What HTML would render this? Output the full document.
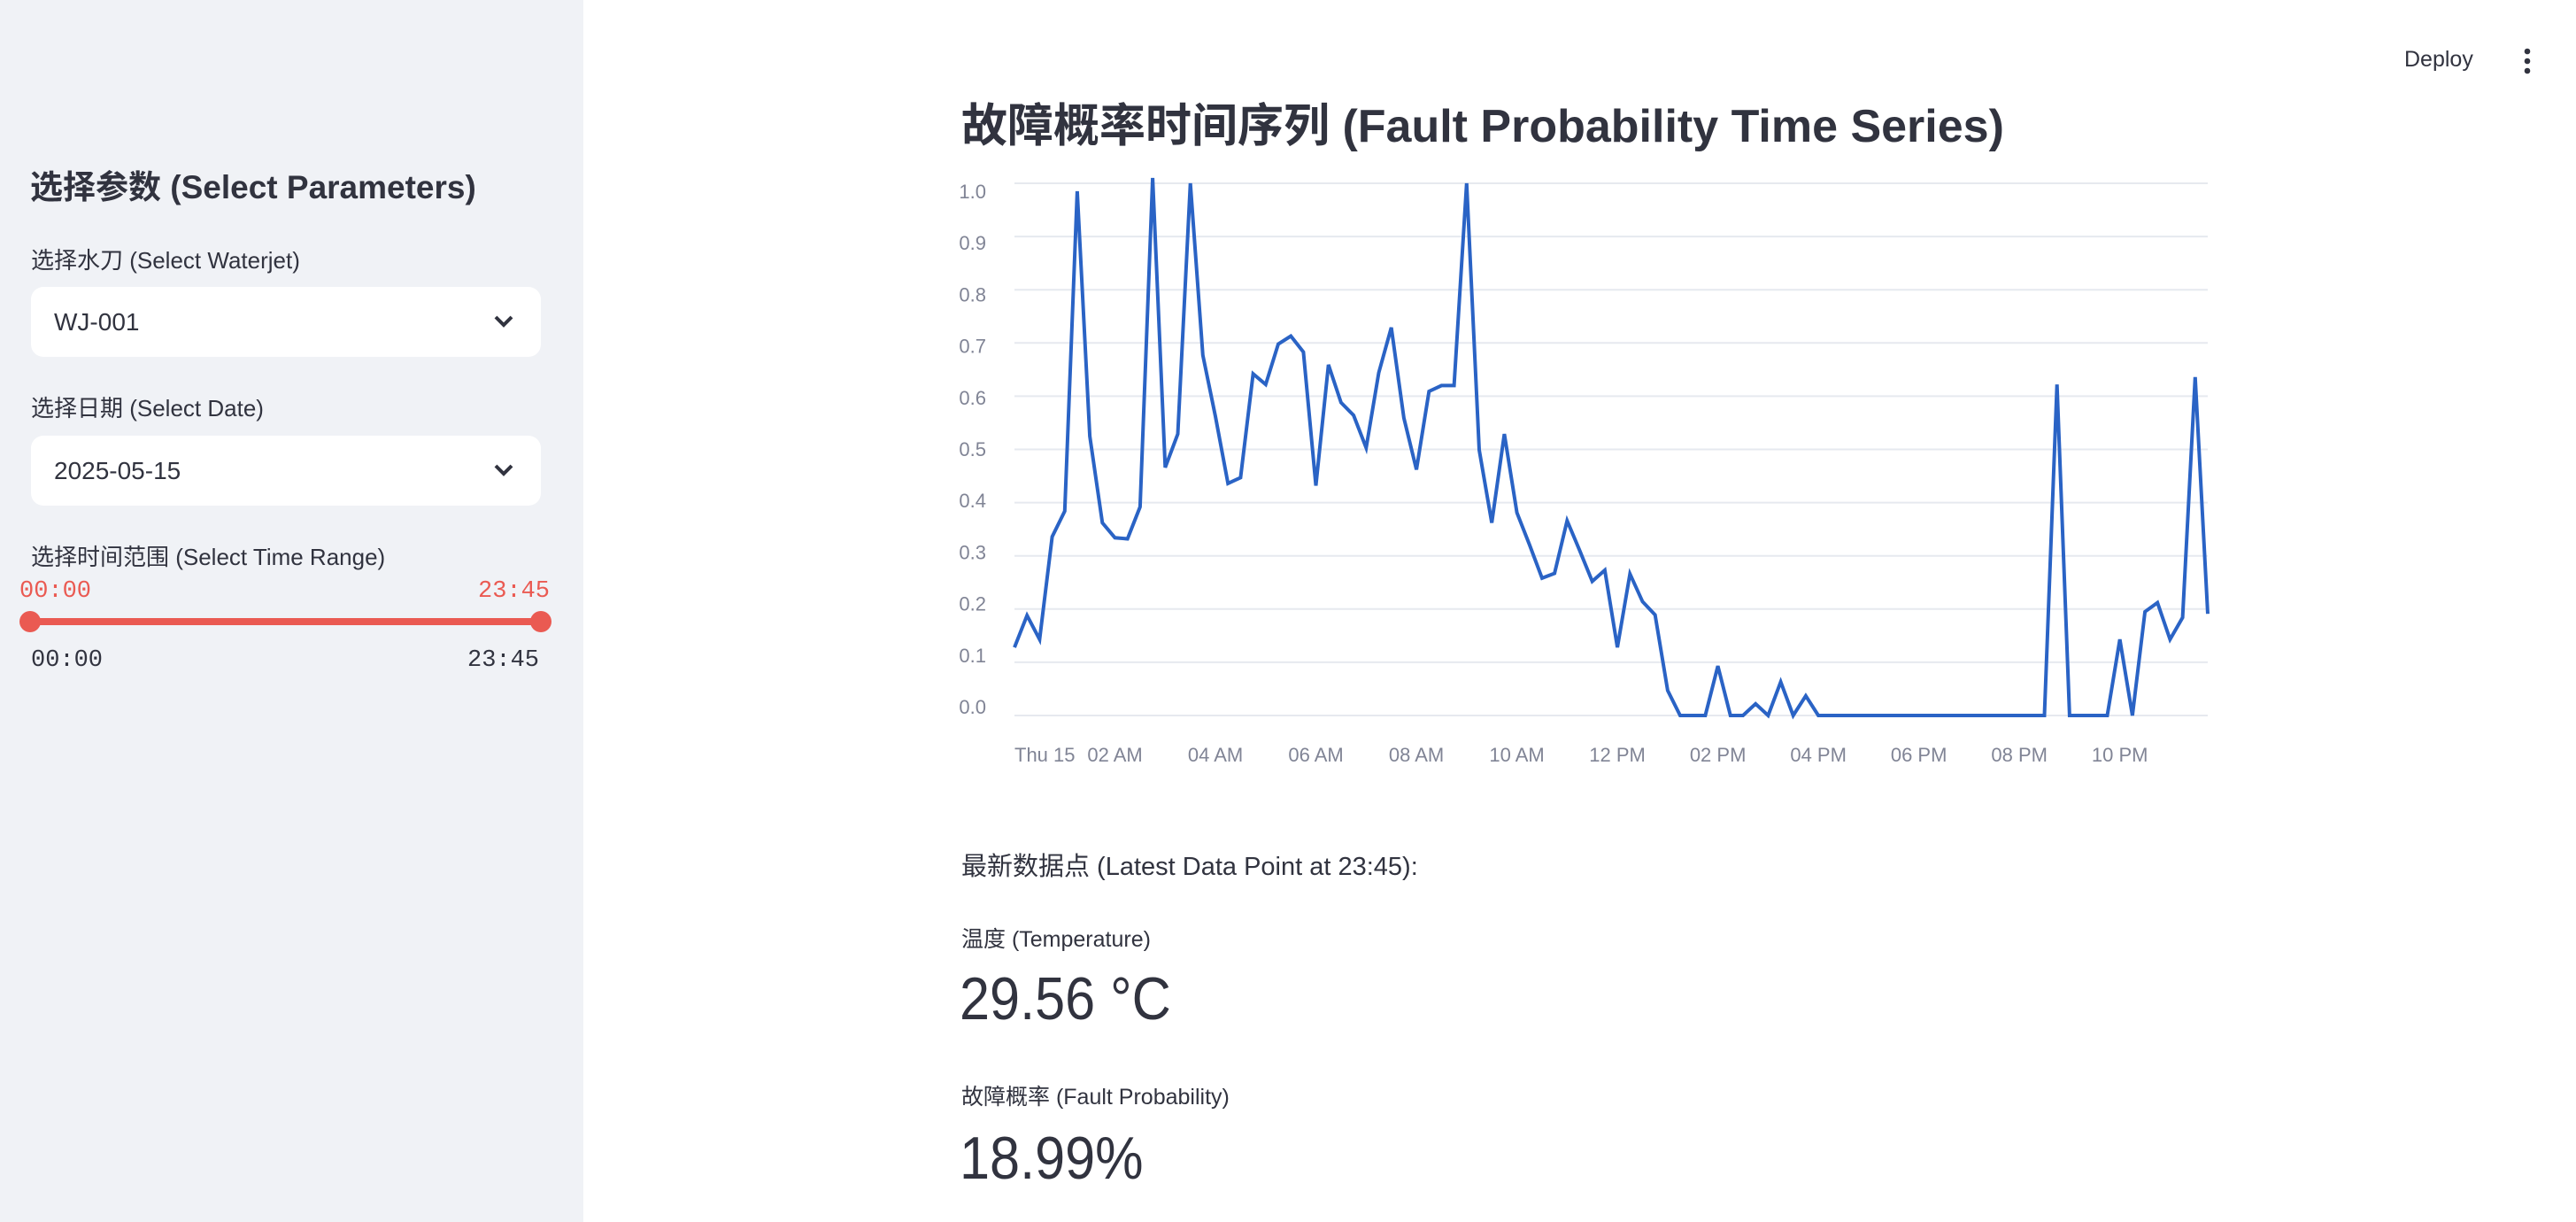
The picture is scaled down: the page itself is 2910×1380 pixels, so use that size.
<!DOCTYPE html>
<html><head><meta charset="utf-8">
<style>
html,body{margin:0;padding:0;width:2910px;height:1380px;overflow:hidden;background:#fff;font-family:"Liberation Sans","Noto Sans CJK SC",sans-serif;color:#31333f}
.abs{position:absolute;white-space:nowrap}
#sidebar{position:absolute;left:0;top:0;width:659px;height:1380px;background:#f0f2f6}
.lbl{font-size:26px;color:#31333f;line-height:30px}
.sel{position:absolute;left:35px;width:576px;height:79px;background:#fff;border-radius:14px}
.sel span{position:absolute;left:26px;top:50%;transform:translateY(-50%);font-size:28px}
.sel svg{position:absolute;right:30px;top:30px}
.mono{font-family:"Liberation Mono",monospace;font-size:27px;line-height:30px}
.big{font-size:68px;line-height:80px;transform:scaleX(0.9);transform-origin:left center}
</style></head>
<body>
<div id="sidebar">
  <div class="abs" style="left:34px;top:190px;font-size:37px;line-height:44px;font-weight:bold">选择参数 (Select Parameters)</div>
  <div class="abs lbl" style="left:35px;top:279px">选择水刀 (Select Waterjet)</div>
  <div class="sel" style="top:324px"><span>WJ-001</span>
    <svg width="24" height="18" viewBox="0 0 24 18"><path d="M3 4 L12 13 L21 4" stroke="#31333f" stroke-width="4" fill="none"/></svg></div>
  <div class="abs lbl" style="left:35px;top:446px">选择日期 (Select Date)</div>
  <div class="sel" style="top:492px"><span>2025-05-15</span>
    <svg width="24" height="18" viewBox="0 0 24 18"><path d="M3 4 L12 13 L21 4" stroke="#31333f" stroke-width="4" fill="none"/></svg></div>
  <div class="abs lbl" style="left:35px;top:614px">选择时间范围 (Select Time Range)</div>
  <div class="abs mono" style="left:22px;top:653px;color:#ea5a52">00:00</div>
  <div class="abs mono" style="left:540px;top:653px;color:#ea5a52">23:45</div>
  <div class="abs" style="left:34px;top:698px;width:577px;height:8px;background:#ea5a52;border-radius:4px"></div>
  <div class="abs" style="left:22px;top:690px;width:24px;height:24px;border-radius:50%;background:#ea5a52"></div>
  <div class="abs" style="left:599px;top:690px;width:24px;height:24px;border-radius:50%;background:#ea5a52"></div>
  <div class="abs mono" style="left:35px;top:731px;color:#31333f">00:00</div>
  <div class="abs mono" style="left:528px;top:731px;color:#31333f">23:45</div>
</div>

<div class="abs" style="left:2716px;top:53px;font-size:25px">Deploy</div>
<svg class="abs" style="left:2848px;top:52px" width="14" height="34"><circle cx="7" cy="6" r="3.3" fill="#31333f"/><circle cx="7" cy="17" r="3.3" fill="#31333f"/><circle cx="7" cy="28" r="3.3" fill="#31333f"/></svg>

<div class="abs" style="left:1086px;top:100px;font-size:52px;font-weight:bold">故障概率时间序列 (Fault Probability Time Series)</div>

<svg id="chart" class="abs" style="left:0;top:0" width="2910" height="900"></svg>

<div class="abs" style="left:1086px;top:955px;font-size:29px">最新数据点 (Latest Data Point at 23:45):</div>
<div class="abs" style="left:1086px;top:1041px;font-size:25px">温度 (Temperature)</div>
<div class="abs big" style="left:1084px;top:1088px">29.56 °C</div>
<div class="abs" style="left:1086px;top:1219px;font-size:25px">故障概率 (Fault Probability)</div>
<div class="abs big" style="left:1084px;top:1268px">18.99%</div>

<script>
const yTicks = [0.0,0.1,0.2,0.3,0.4,0.5,0.6,0.7,0.8,0.9,1.0];
const xTickHours = [0,2,4,6,8,10,12,14,16,18,20,22];
const xTickLabels = ["Thu 15","02 AM","04 AM","06 AM","08 AM","10 AM","12 PM","02 PM","04 PM","06 PM","08 PM","10 PM"];
const faultProb = [0.128,0.188,0.143,0.336,0.384,0.985,0.525,0.362,0.334,0.332,0.392,1.01,0.466,0.529,1.0,0.677,
0.562,0.436,0.447,0.642,0.622,0.698,0.713,0.683,0.432,0.659,0.588,0.564,0.503,0.644,0.729,0.559,
0.462,0.609,0.620,0.620,1.0,0.499,0.362,0.529,0.381,0.321,0.258,0.267,0.366,0.310,0.252,0.273,
0.128,0.266,0.214,0.189,0.047,0,0,0,0.093,0,0,0.022,0,0.063,0,0.037,
0,0,0,0,0,0,0,0,0,0,0,0,0,0,0,0,
0,0,0,0.622,0,0,0,0,0.143,0,0.195,0.212,0.143,0.184,0.636,0.191];

const NS="http://www.w3.org/2000/svg";
const svg=document.getElementById('chart');
const L=1146,R=2494,Y0=808,Y1=207;
const xScale=h=>L+h*(R-L)/23.75;
const yScale=v=>Y0-v*(Y0-Y1);
const yLabelPos=v=>798-v*(798-216);
function mk(t,a){const e=document.createElementNS(NS,t);for(const k in a)e.setAttribute(k,a[k]);svg.appendChild(e);return e;}
yTicks.forEach((v,i)=>{
  const g=mk('line',{x1:L,x2:R,y1:yScale(v),y2:yScale(v),stroke:'#e6e9ef','stroke-width':2});
  
  
  const t=mk('text',{x:1114,y:yLabelPos(v)+8,'text-anchor':'end','font-size':22,fill:'#808495','font-family':'Liberation Sans, sans-serif'});
  t.textContent=v.toFixed(1);
  
  
});
xTickHours.forEach((h,i)=>{
  const t=mk('text',{x:xScale(h),y:860,'text-anchor':i===0?'start':'middle','font-size':22,fill:'#808495','font-family':'Liberation Sans, sans-serif'});
  t.textContent=xTickLabels[i];
  
  
});
const cp=mk('clipPath',{id:'clip'});
const cr=document.createElementNS(NS,'rect');
cr.setAttribute('x',L-2);cr.setAttribute('y',200);cr.setAttribute('width',R-L+4);cr.setAttribute('height',620);
cp.appendChild(cr);
const pts=faultProb.map((v,i)=>xScale(i*0.25).toFixed(1)+','+yScale(v).toFixed(1)).join(' ');
const line=mk('polyline',{points:pts,fill:'none',stroke:'#2a63c5','stroke-width':4,'stroke-linejoin':'miter','clip-path':'url(#clip)'});


</script>
</body></html>
